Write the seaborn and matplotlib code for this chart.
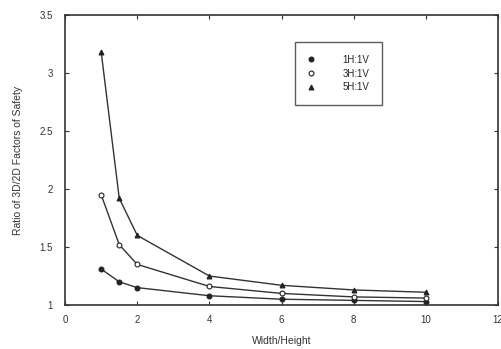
import matplotlib
matplotlib.use("Agg")
import matplotlib.pyplot as plt
import seaborn as sns
import pandas as pd

width_height = [1, 1.5, 2, 4, 6, 8, 10]
ratio_1h1v = [1.31, 1.20, 1.15, 1.08, 1.05, 1.04, 1.03]
ratio_3h1v = [1.95, 1.52, 1.35, 1.16, 1.10, 1.07, 1.06]
ratio_5h1v = [3.18, 1.92, 1.60, 1.25, 1.17, 1.13, 1.11]
series_names = ["1H:1V", "3H:1V", "5H:1V"]

sns.set_theme(style="white")
plt.rcParams['font.family'] = ['Liberation Sans', 'DejaVu Sans']

rows = []
for name, vals in zip(series_names, [ratio_1h1v, ratio_3h1v, ratio_5h1v]):
    for x, y in zip(width_height, vals):
        rows.append({"Width/Height": x, "Ratio": y, "Slope": name})
df = pd.DataFrame(rows)

fig = plt.figure(figsize=(5.01, 3.49), dpi=100)
ax = fig.add_axes([0.13, 0.126, 0.864, 0.831])

markers = {"1H:1V": "o", "3H:1V": "o", "5H:1V": "^"}
for name in series_names:
    sub = df[df["Slope"] == name]
    face = "white" if name == "3H:1V" else "#222222"
    sns.lineplot(data=sub, x="Width/Height", y="Ratio", ax=ax, color="#333333",
                 lw=1.0, marker=markers[name], markersize=3.5,
                 markerfacecolor=face, markeredgecolor="#222222",
                 markeredgewidth=0.8, label=name)

ax.set_xlim(0, 12)
ax.set_ylim(1, 3.5)
ax.set_xticks([0, 2, 4, 6, 8, 10, 12])
ax.set_yticks([1, 1.5, 2, 2.5, 3, 3.5])
ax.set_xticklabels(["0", "2", "4", "6", "8", "10", "12"])
ax.set_yticklabels(["1", "1.5", "2", "2.5", "3", "3.5"])
ax.tick_params(direction="in", length=3, width=0.8, labelsize=7, colors="#333333",
               top=True, right=True, bottom=True, left=True)
ax.tick_params(axis="y", pad=9)
ax.tick_params(axis="x", pad=7)
for s in ax.spines.values():
    s.set_color("#333333")
    s.set_linewidth(1.2)
ax.set_xlabel("Width/Height", fontsize=7.5, color="#333333", labelpad=8)
ax.set_ylabel("Ratio of 3D/2D Factors of Safety", fontsize=7.5, color="#333333", labelpad=12)

leg = ax.legend(loc="upper left", bbox_to_anchor=(0.531, 0.907), fontsize=7,
                frameon=True, fancybox=False, edgecolor="#333333",
                handlelength=0.6, handletextpad=3.0, borderpad=1.3,
                labelspacing=0.4, borderaxespad=0)
leg.get_frame().set_linewidth(1.0)
for h in leg.get_lines():
    h.set_linestyle("none")

fig.savefig("out.png", dpi=100)
